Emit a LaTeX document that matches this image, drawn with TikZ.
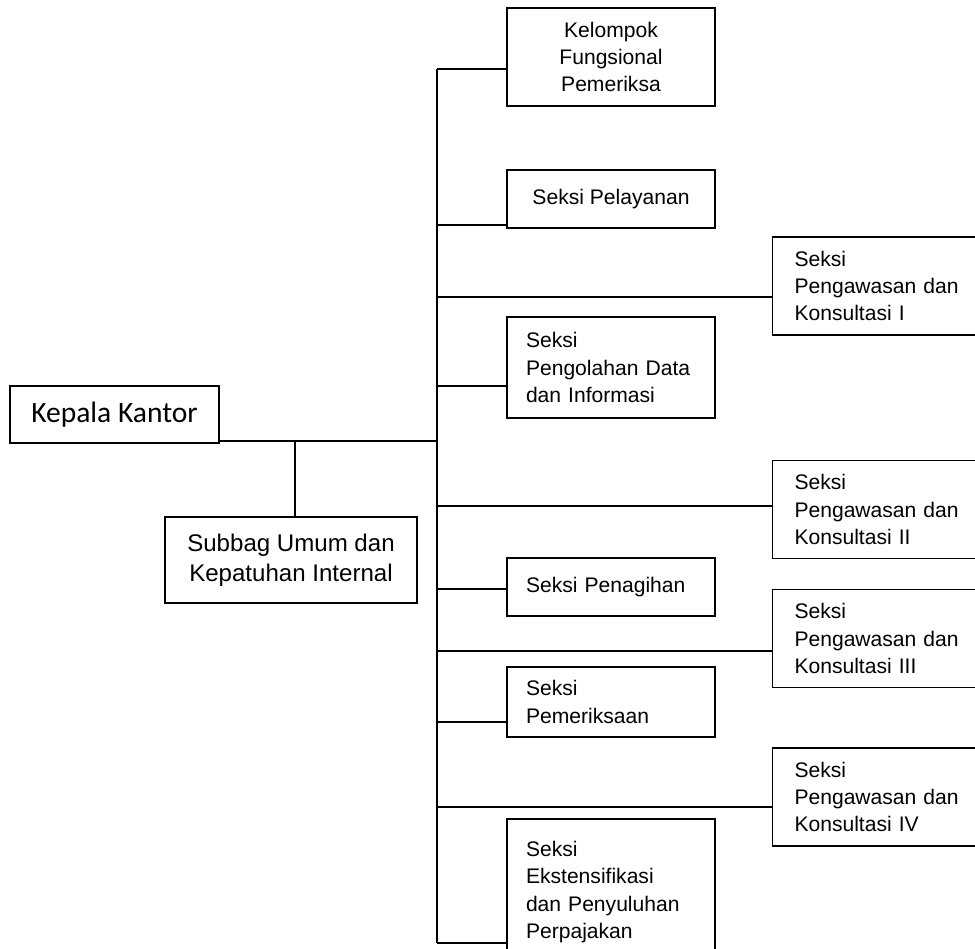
\documentclass[tikz,border=0pt]{standalone}
\usepackage{fontspec}
\setmainfont{Liberation Sans}
\newfontfamily\calibri{Carlito}
\usetikzlibrary{positioning, calc}

\begin{document}
\begin{tikzpicture}[
        x=0.02cm, y=-0.02cm,
        box/.style={rectangle, draw, line width=1.1pt, inner sep=0pt,
            font=\fontsize{12}{15.5}\selectfont},
        cbox/.style={box, align=center, minimum width=4.16cm},
        lbox/.style={box, align=left, text width=3.4cm, inner xsep=0.38cm},
        pkbox/.style={box, align=left, text width=3.5cm, inner xsep=0.44cm, minimum height=1.96cm},
        ln/.style={line width=1.1pt}
    ]
    \useasboundingbox (0,0) rectangle (975,949);
    \node[box, minimum width=4.18cm, minimum height=1.14cm, font=\calibri\fontsize{16.8}{20}\selectfont] (kep) at (114.5,414.5) {Kepala Kantor};
    \node[box, minimum width=5.04cm, minimum height=1.72cm, align=center, font=\fontsize{13.7}{17}\selectfont] (sub) at (291,560) {Subbag Umum dan\\Kepatuhan Internal};
    \node[cbox, minimum height=1.96cm] (kel) at (611,57) {Kelompok\\Fungsional\\Pemeriksa};
    \node[cbox, minimum height=1.16cm] (pel) at (611,199) {Seksi Pelayanan};
    \node[pkbox] (pk1) at (882,286) {Seksi\\Pengawasan dan\\Konsultasi I};
    \node[lbox, minimum height=2.02cm] (olh) at (611,367.5) {Seksi\\Pengolahan Data\\dan Informasi};
    \node[pkbox] (pk2) at (882,509.5) {Seksi\\Pengawasan dan\\Konsultasi II};
    \node[lbox, minimum height=1.16cm] (tag) at (611,587) {Seksi Penagihan};
    \node[pkbox] (pk3) at (882,638.5) {Seksi\\Pengawasan dan\\Konsultasi III};
    \node[lbox, minimum height=1.4cm] (prk) at (611,702) {Seksi\\Pemeriksaan};
    \node[pkbox] (pk4) at (882,797) {Seksi\\Pengawasan dan\\Konsultasi IV};
    \node[lbox, minimum height=2.92cm] (eks) at (611,892) {Seksi\\Ekstensifikasi\\dan Penyuluhan\\Perpajakan};

    \coordinate (jkel) at (437,69);
    \coordinate (jpel) at (437,225);
    \coordinate (jpk1) at (437,297);
    \coordinate (jolh) at (437,386);
    \coordinate (jkep) at (437,441);
    \coordinate (jpk2) at (437,506);
    \coordinate (jtag) at (437,589);
    \coordinate (jpk3) at (437,651);
    \coordinate (jprk) at (437,722);
    \coordinate (jpk4) at (437,807);
    \coordinate (jeks) at (437,943);
    \coordinate (jsub) at (295,441);

    \draw[ln] (jkel) -- (jeks);
    \draw[ln] (jkel) -- (jkel -| kel.west);
    \draw[ln] (jpel) -- (jpel -| pel.west);
    \draw[ln] (jpk1) -- (jpk1 -| pk1.west);
    \draw[ln] (jolh) -- (jolh -| olh.west);
    \draw[ln] (jpk2) -- (jpk2 -| pk2.west);
    \draw[ln] (jtag) -- (jtag -| tag.west);
    \draw[ln] (jpk3) -- (jpk3 -| pk3.west);
    \draw[ln] (jprk) -- (jprk -| prk.west);
    \draw[ln] (jpk4) -- (jpk4 -| pk4.west);
    \draw[ln] (jeks) -- (jeks -| eks.west);
    \draw[ln] (jkep) -- (jkep -| kep.east);
    \draw[ln] (jsub) -- (jsub |- sub.north);
\end{tikzpicture}
\end{document}
